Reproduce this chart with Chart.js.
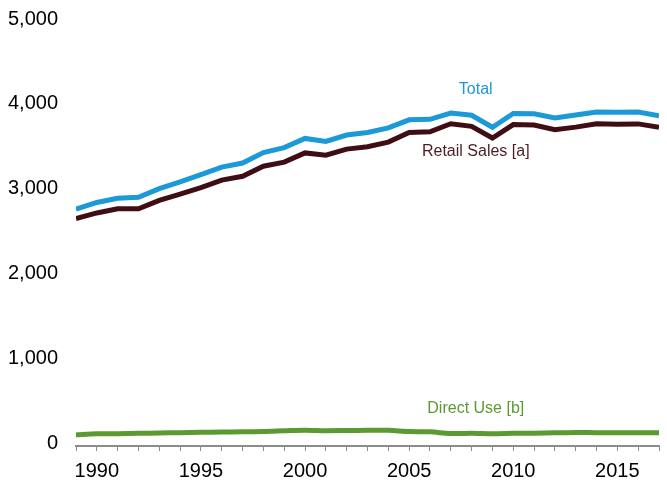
<!DOCTYPE html>
<html>
<head>
<meta charset="utf-8">
<script src="https://cdn.jsdelivr.net/npm/chart.js@4/dist/chart.umd.min.js"></script>
<style>
  html, body { margin: 0; padding: 0; background: #fff; }
  #wrap { width: 667px; height: 482px; }
</style>
</head>
<body>
<div id="wrap"><canvas id="electricityChart" width="667" height="482"></canvas></div>
<script>
// years on the x axis
const years = [1989, 1990, 1991, 1992, 1993, 1994, 1995, 1996, 1997, 1998, 1999,
    2000, 2001, 2002, 2003, 2004, 2005, 2006, 2007, 2008, 2009,
    2010, 2011, 2012, 2013, 2014, 2015, 2016, 2017];

// billion kWh
const totalUse = [2757, 2837, 2886, 2897, 3000, 3080, 3164, 3253, 3302, 3425, 3483,
    3592, 3557, 3632, 3662, 3716, 3811, 3817, 3890, 3865, 3724,
    3887, 3883, 3832, 3868, 3903, 3900, 3902, 3858];
const retailSales = [2647, 2713, 2762, 2763, 2862, 2935, 3013, 3101, 3146, 3264, 3312,
    3421, 3395, 3466, 3494, 3548, 3661, 3670, 3765, 3734, 3597,
    3755, 3750, 3695, 3725, 3765, 3759, 3763, 3723];
const directUse = [98, 108, 109, 114, 118, 122, 126, 130, 132, 135, 144,
    152, 146, 148, 150, 150, 136, 132, 112, 116, 110,
    114, 116, 120, 124, 122, 122, 122, 120];

const yTicks = [0, 1000, 2000, 3000, 4000, 5000];
const xLabelYears = [1990, 1995, 2000, 2005, 2010, 2015];

function toPoints(values) {
    return years.map((year, i) => ({ x: year, y: values[i] }));
}

// series names written next to the lines
const lineLabels = {
    id: "lineLabels",
    afterDatasetsDraw(chart) {
        const ctx = chart.ctx;
        const xs = chart.scales.x;
        const ys = chart.scales.y;
        const items = [
            { text: "Total", x: 2008.2, y: 4165, color: "#1b9ad7" },
            { text: "Retail Sales [a]", x: 2008.2, y: 3432, color: "#4a1d24" },
            { text: "Direct Use [b]", x: 2008.2, y: 401, color: "#5b9a32" },
        ];
        ctx.save();
        ctx.font = "16px 'Liberation Sans', Arial, sans-serif";
        ctx.textAlign = "center";
        ctx.textBaseline = "middle";
        items.forEach(item => {
            ctx.fillStyle = item.color;
            ctx.fillText(item.text, xs.getPixelForValue(item.x), ys.getPixelForValue(item.y));
        });
        ctx.restore();
    }
};

const context = document.getElementById("electricityChart");
const electricityChart = new Chart(context, {
    type: "line",
    data: {
        datasets: [
            {
                label: "Total",
                data: toPoints(totalUse),
                borderColor: "#1b9ad7",
                borderWidth: 5,
                pointRadius: 0,
                tension: 0,
            },
            {
                label: "Retail Sales [a]",
                data: toPoints(retailSales),
                borderColor: "#3f0e15",
                borderWidth: 5,
                pointRadius: 0,
                tension: 0,
            },
            {
                label: "Direct Use [b]",
                data: toPoints(directUse),
                borderColor: "#5b9a32",
                borderWidth: 5,
                pointRadius: 0,
                tension: 0.3,
            },
        ],
    },
    options: {
        responsive: false,
        animation: false,
        layout: {
            padding: { top: 19, right: 0, left: 0, bottom: 0 }
        },
        plugins: {
            legend: { display: false },
            tooltip: { enabled: false },
        },
        scales: {
            x: {
                type: "linear",
                min: 1989,
                max: 2017,
                afterBuildTicks(scale) {
                    scale.ticks = years.map(year => ({ value: year }));
                },
                ticks: {
                    autoSkip: false,
                    maxRotation: 0,
                    padding: 8,
                    color: "#000",
                    font: { family: "'Liberation Sans', Arial, sans-serif", size: 20 },
                    callback: value => xLabelYears.includes(value) ? String(value) : "",
                },
                grid: {
                    display: true,
                    drawOnChartArea: false,
                    drawTicks: true,
                    tickLength: 5,
                    color: "#8c8c8c",
                    lineWidth: 1,
                },
                border: { display: true, color: "#8c8c8c", width: 2 },
                afterFit(scale) {
                    scale.height = 36;
                },
            },
            y: {
                // axis line sits a few pixels below zero in the original
                min: -35,
                max: 5000,
                afterBuildTicks(scale) {
                    scale.ticks = yTicks.map(v => ({ value: v }));
                },
                ticks: {
                    padding: 18,
                    color: "#000",
                    font: { family: "'Liberation Sans', Arial, sans-serif", size: 20 },
                    callback: value => value.toLocaleString("en-US"),
                },
                grid: { display: false, tickLength: 0 },
                border: { display: false },
                afterFit(scale) {
                    scale.width = 76;
                    scale.paddingTop = 0;
                    scale.paddingBottom = 0;
                },
            },
        },
    },
    plugins: [lineLabels],
});
</script>
</body>
</html>
